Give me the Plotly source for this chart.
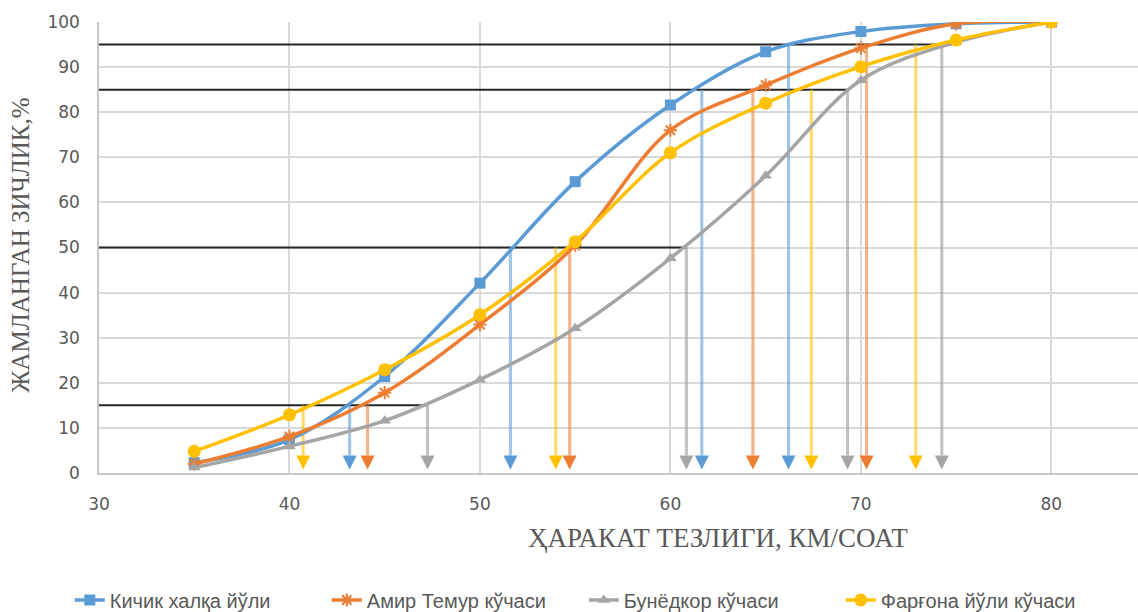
import plotly.graph_objects as go

# Speed classes (km/h) and cumulative density (%) for each street
speed = [35, 40, 45, 50, 55, 60, 65, 70, 75, 80]
kichik_halqa = [2.3, 7.4, 21.4, 42.1, 64.6, 81.6, 93.4, 97.9, 99.6, 100]
amir_temur = [2.0, 8.1, 17.8, 32.9, 50.5, 76.0, 86.0, 94.2, 99.6, 100]
bunyodkor = [1.2, 5.9, 11.6, 20.7, 32.1, 47.6, 65.9, 87.1, 95.5, 100]
fargona = [4.8, 12.9, 22.9, 35.1, 51.3, 71.0, 82.0, 90.1, 96.0, 100]

series_names = ["Кичик халқа йўли", "Амир Темур кўчаси", "Бунёдкор кўчаси", "Фарғона йўли кўчаси"]

# Percentile levels and the speed at which each curve reaches them
levels = [15, 50, 85, 95]
kichik_halqa_v = [43.16, 51.6, 61.65, 66.2]
amir_temur_v = [44.1, 54.71, 64.33, 70.3]
bunyodkor_v = [47.25, 60.84, 69.3, 74.25]
fargona_v = [40.72, 53.98, 67.4, 72.88]

x_ticks = [30, 40, 50, 60, 70, 80]
y_ticks = [0, 10, 20, 30, 40, 50, 60, 70, 80, 90, 100]

colors = ["#5B9BD5", "#ED7D31", "#A5A5A5", "#FFC000"]
faded = ["rgba(91,155,213,0.6)", "rgba(237,125,49,0.6)", "rgba(165,165,165,0.7)", "rgba(255,192,0,0.6)"]
symbols = ["square", "asterisk-open", "triangle-up", "circle"]
msizes = [11, 11, 11, 13]

curves = [kichik_halqa, amir_temur, bunyodkor, fargona]
crossings = [kichik_halqa_v, amir_temur_v, bunyodkor_v, fargona_v]

ARROW_TIP = 0.8
ARROW_BASE = 3.9

fig = go.Figure()

# Horizontal level lines from the axis to the last curve reaching the level
hx, hy = [], []
for lv, xe in zip(levels, bunyodkor_v):
    hx += [30, xe, None]
    hy += [lv, lv, None]
fig.add_trace(go.Scatter(x=hx, y=hy, mode="lines", line=dict(color="#262626", width=2),
                         showlegend=False, hoverinfo="skip"))

# Vertical drop lines with arrow heads down to the speed axis
for col, fcol, xs in zip(colors, faded, crossings):
    vx, vy = [], []
    for lv, xv in zip(levels, xs):
        vx += [xv, xv, None]
        vy += [lv, ARROW_BASE, None]
    fig.add_trace(go.Scatter(x=vx, y=vy, mode="lines", line=dict(color=fcol, width=3),
                             showlegend=False, hoverinfo="skip"))
    fig.add_trace(go.Scatter(x=xs, y=[ARROW_TIP] * len(xs), mode="markers",
                             marker=dict(symbol="arrow-down", size=14, color=col, line=dict(width=0)),
                             showlegend=False, hoverinfo="skip"))

# Cumulative distribution curves
for name, col, sym, ms, ys in zip(series_names, colors, symbols, msizes, curves):
    mk = dict(symbol=sym, size=ms, color=col)
    if sym == "asterisk-open":
        mk["line"] = dict(color=col, width=2)
    fig.add_trace(go.Scatter(x=speed, y=ys, name=name, mode="lines+markers",
                             line=dict(color=col, width=3.5, shape="spline", smoothing=1.0),
                             marker=mk))

axis_font = dict(family="DejaVu Sans, sans-serif", size=17, color="#595959")
serif = "Liberation Serif, Times New Roman, serif"

fig.update_layout(
    width=1138, height=612,
    margin=dict(l=99, r=0, t=22, b=139),
    paper_bgcolor="white", plot_bgcolor="white",
    xaxis=dict(range=[30, 84.55], tickvals=x_ticks, ticktext=[str(v) for v in x_ticks],
               showgrid=True, gridcolor="#d9d9d9", gridwidth=1.5, zeroline=False,
               showline=True, linecolor="#c8c8c8", linewidth=1.5,
               ticks="outside", ticklen=15, tickcolor="rgba(0,0,0,0)", tickfont=axis_font),
    yaxis=dict(range=[0, 100], tickvals=y_ticks, ticktext=[str(v) for v in y_ticks],
               showgrid=True, gridcolor="#d9d9d9", gridwidth=1.5, zeroline=False,
               showline=True, linecolor="#c8c8c8", linewidth=1.5,
               ticks="outside", ticklen=14, tickcolor="rgba(0,0,0,0)", tickfont=axis_font),
    legend=dict(orientation="h", xref="container", yref="container", x=0.513, y=(612 - 600) / 612,
                xanchor="center", yanchor="middle", entrywidth=212,
                font=dict(family="Liberation Sans Narrow, Arial Narrow, sans-serif", size=20, color="#595959")),
    annotations=[
        dict(text="ҲАРАКАТ ТЕЗЛИГИ, КМ/СОАТ", xref="paper", yref="paper",
             x=(718 - 99) / 1039, y=(473.3 - 538) / 451.3, xanchor="center", yanchor="middle",
             showarrow=False, font=dict(family=serif, size=27, color="#595959")),
        dict(text="ЖАМЛАНГАН ЗИЧЛИК,%", xref="paper", yref="paper", textangle=-90,
             x=(21 - 99) / 1039, y=(473.3 - 246) / 451.3, xanchor="center", yanchor="middle",
             showarrow=False, font=dict(family=serif, size=25, color="#595959")),
    ],
)

fig.write_html("out.html")
